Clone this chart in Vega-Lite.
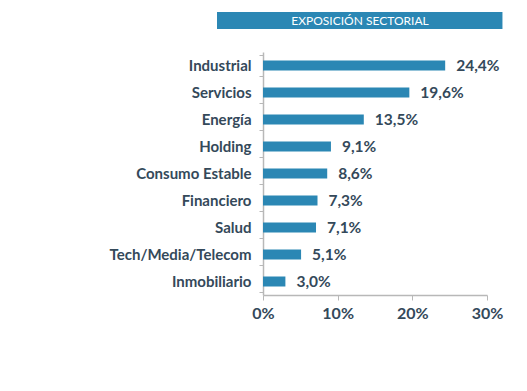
{
  "$schema": "https://vega.github.io/schema/vega-lite/v6.json",
  "padding": {"left": 109, "top": 12, "right": 5, "bottom": 5},
  "background": "white",
  "config": {
    "view": {"stroke": null},
    "font": "Lato",
    "locale": {"number": {"decimal": ",", "thousands": ".", "grouping": [3], "currency": ["", " €"]}}
  },
  "spacing": 16,
  "resolve": {"scale": {"x": "shared"}},
  "vconcat": [
    {
      "width": 224,
      "height": 17,
      "data": {"values": [{"titulo": "EXPOSICIÓN SECTORIAL"}]},
      "layer": [
        {
          "mark": {"type": "rect", "color": "#2b87b4", "clip": false},
          "encoding": {
            "x": {"datum": -0.0616, "type": "quantitative", "scale": {"domain": [0, 0.3], "nice": false}, "axis": null},
            "x2": {"datum": 0.3207}
          }
        },
        {
          "mark": {"type": "text", "color": "white", "fontSize": 12, "font": "Lato", "baseline": "middle", "align": "center"},
          "encoding": {
            "x": {"datum": 0.1299, "type": "quantitative", "axis": null},
            "text": {"field": "titulo"}
          }
        }
      ]
    },
    {
      "width": 224,
      "height": 243,
      "data": {"values": [
        {"sector": "Industrial", "peso": 0.244},
        {"sector": "Servicios", "peso": 0.196},
        {"sector": "Energía", "peso": 0.135},
        {"sector": "Holding", "peso": 0.091},
        {"sector": "Consumo Estable", "peso": 0.086},
        {"sector": "Financiero", "peso": 0.073},
        {"sector": "Salud", "peso": 0.071},
        {"sector": "Tech/Media/Telecom", "peso": 0.051},
        {"sector": "Inmobiliario", "peso": 0.030}
      ]},
      "encoding": {
        "y": {
          "field": "sector", "type": "nominal", "sort": null,
          "scale": {"paddingInner": 0.2, "paddingOuter": 0.1},
          "axis": {
            "title": null, "tickBand": "extent", "tickSize": 4, "labelPadding": 8,
            "labelFontSize": 15, "labelFontWeight": "bold", "labelFont": "Lato", "labelColor": "#34495a",
            "domainColor": "#b8b8b8", "tickColor": "#b8b8b8", "domainWidth": 1.5
          }
        }
      },
      "layer": [
        {
          "mark": {"type": "bar", "size": 10, "color": "#2b87b4"},
          "encoding": {
            "x": {
              "field": "peso", "type": "quantitative",
              "scale": {"domain": [0, 0.3], "nice": false},
              "axis": {
                "title": null, "grid": false, "format": ".0%", "values": [0, 0.1, 0.2, 0.3], "labelFlush": false,
                "labelFontSize": 16, "labelFontWeight": "bold", "labelFont": "Lato", "labelColor": "#34495a",
                "domainColor": "#b8b8b8", "tickColor": "#b8b8b8", "tickSize": 5, "labelPadding": 5, "domainWidth": 1.5
              }
            }
          }
        },
        {
          "mark": {"type": "text", "align": "left", "baseline": "middle", "dx": 11, "fontSize": 15.5, "fontWeight": "bold", "font": "Lato", "color": "#34495a"},
          "encoding": {
            "x": {"field": "peso", "type": "quantitative"},
            "text": {"field": "peso", "type": "quantitative", "format": ".1%"}
          }
        }
      ]
    }
  ]
}
